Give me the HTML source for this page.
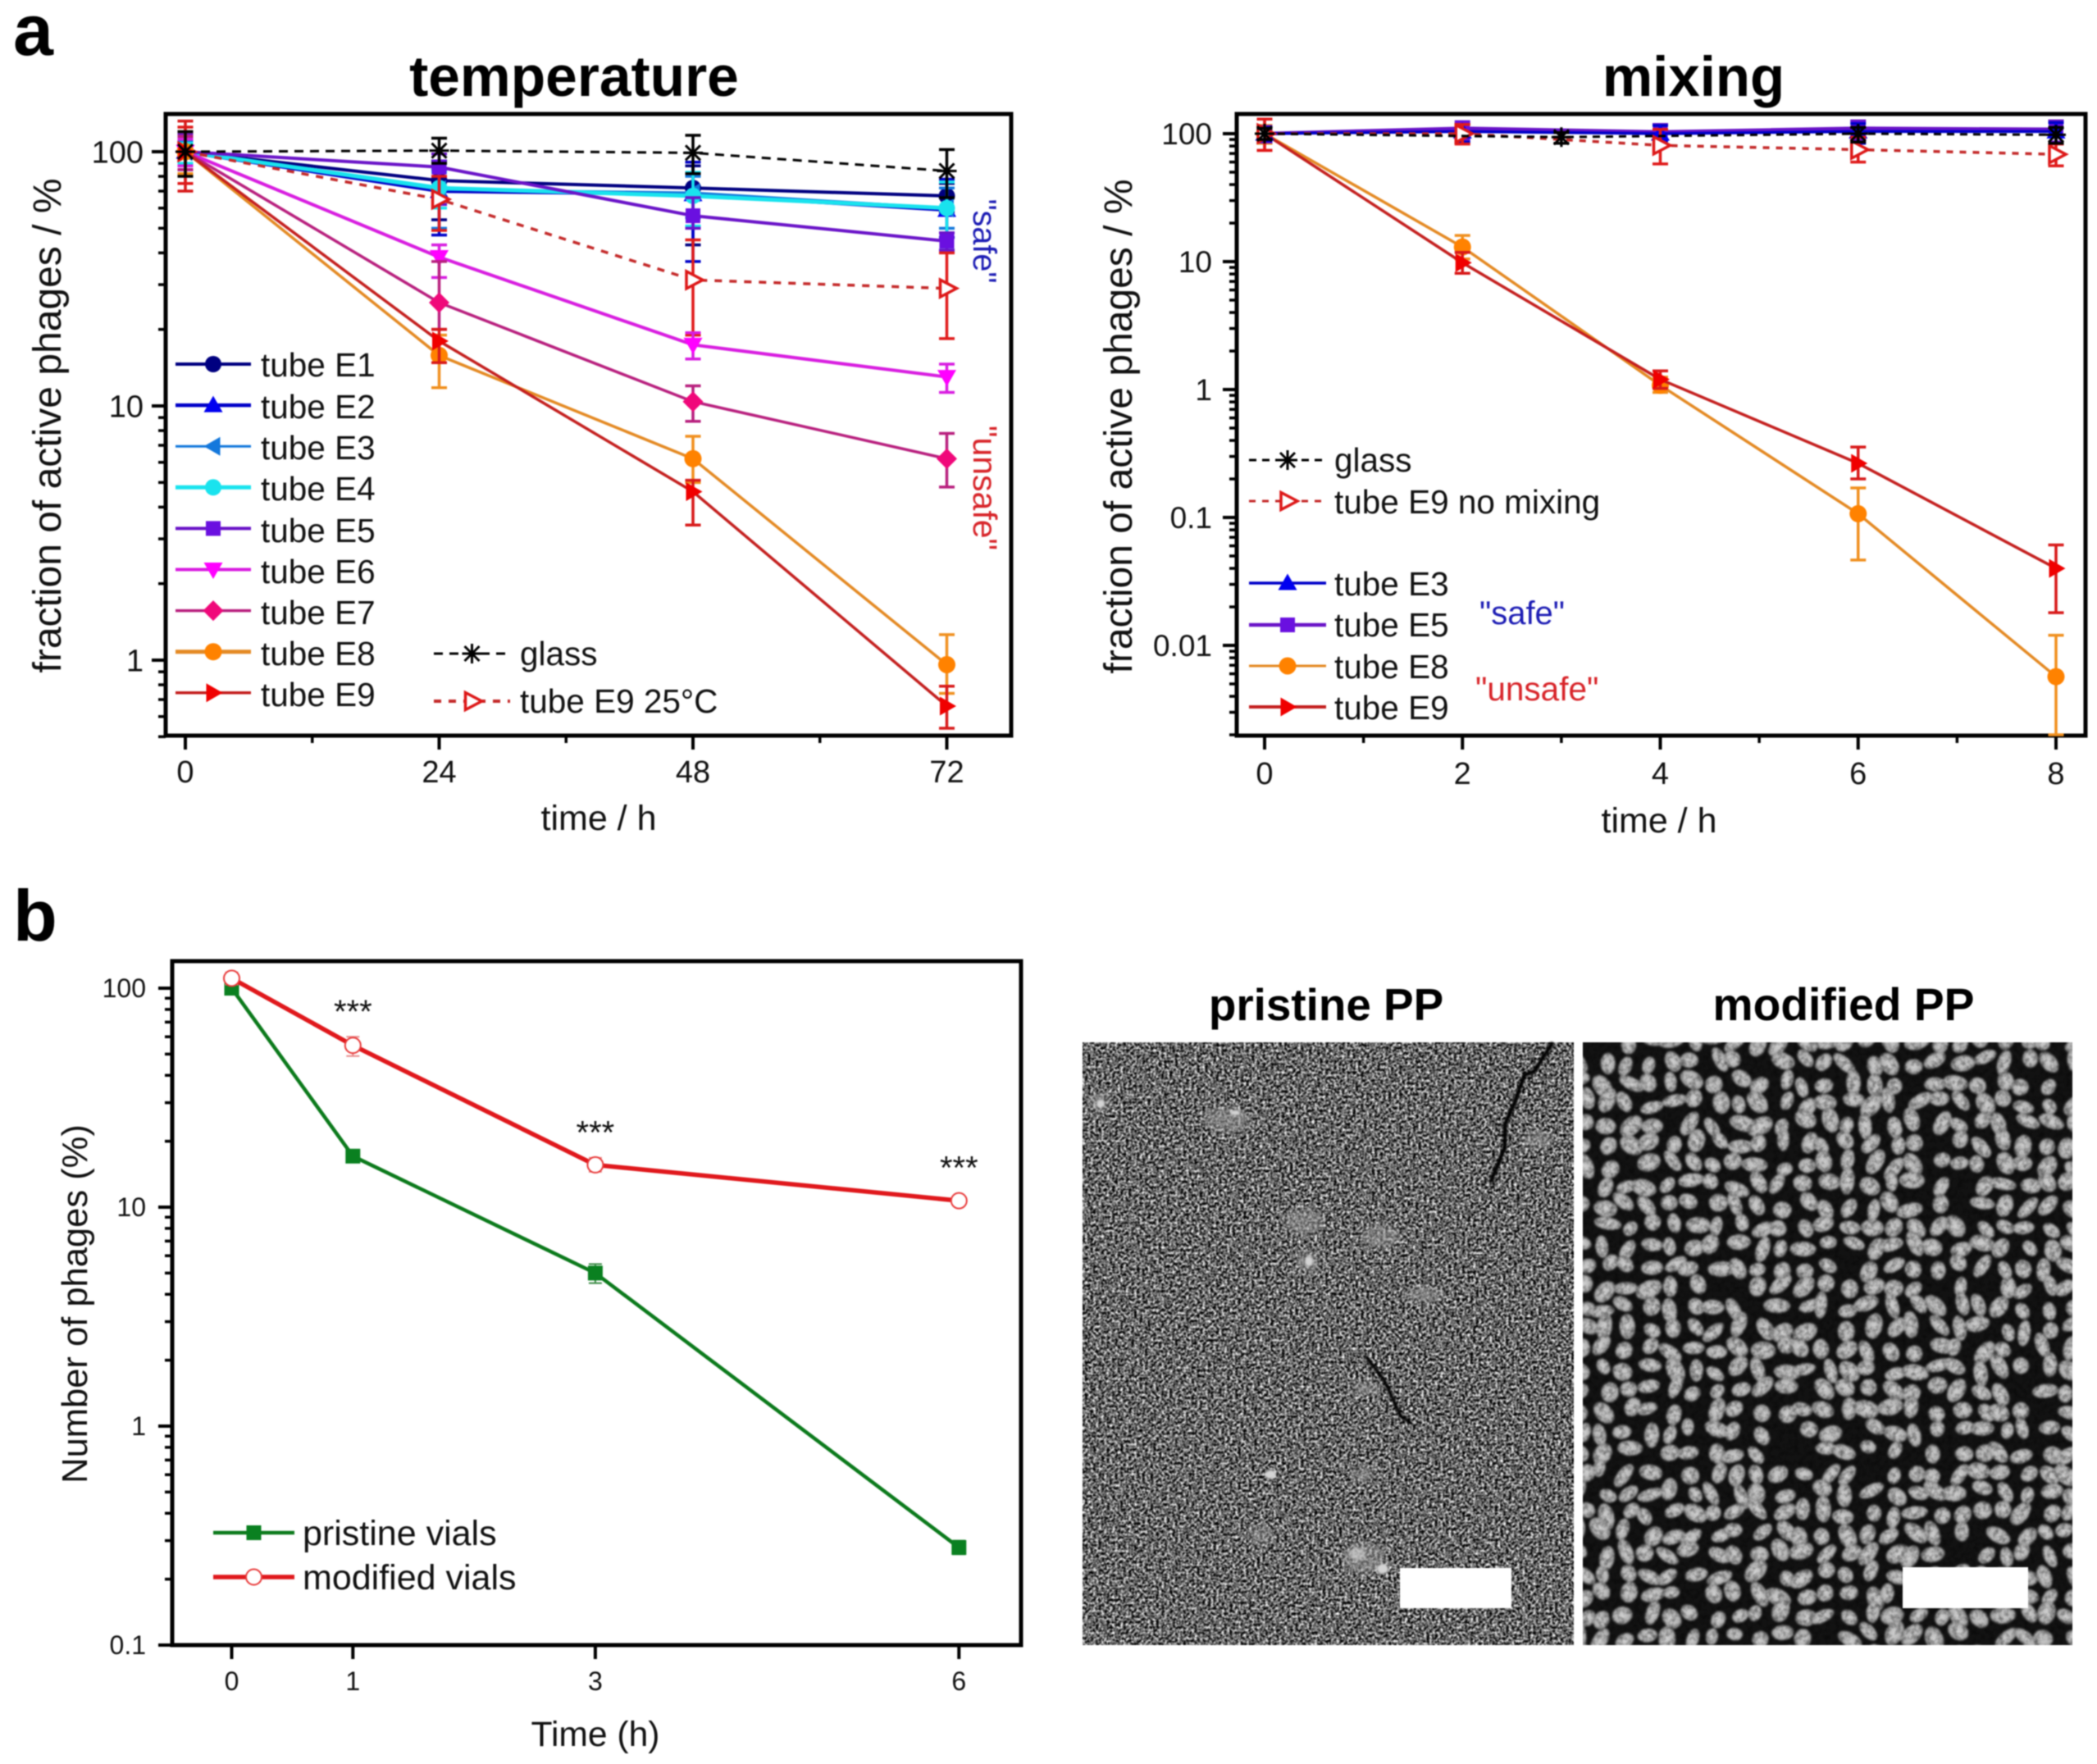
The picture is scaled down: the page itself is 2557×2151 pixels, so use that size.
<!DOCTYPE html>
<html lang="en">
<head>
<meta charset="utf-8">
<title>Phage activity charts</title>
<style>
html,body{margin:0;padding:0;background:#fff;}
#root{display:block;width:2557px;height:2151px;filter:blur(0.7px);}
text{font-family:"Liberation Sans",sans-serif;fill:#111;}
.lg{font-size:40.5px;}
.bd{font-weight:700;fill:#000;}
</style>
</head>
<body>
<svg id="root" xmlns="http://www.w3.org/2000/svg" width="2557" height="2151" viewBox="0 0 2557 2151">
<defs>
<filter id="grain" x="0" y="0" width="100%" height="100%" color-interpolation-filters="sRGB">
<feTurbulence type="fractalNoise" baseFrequency="0.3" numOctaves="3" seed="4"/>
<feColorMatrix type="matrix" values="1.9 0 0 0 -0.55  1.9 0 0 0 -0.55  1.9 0 0 0 -0.55  0 0 0 0 1"/>
</filter>
<filter id="fine" x="0" y="0" width="100%" height="100%" color-interpolation-filters="sRGB">
<feTurbulence type="fractalNoise" baseFrequency="0.16" numOctaves="2" seed="9"/>
<feColorMatrix type="matrix" values="0 0 0 0 0  0 0 0 0 0  0 0 0 0 0  0.9 0 0 0 -0.35"/>
</filter>
<filter id="soft2"><feGaussianBlur stdDeviation="1"/></filter>
<filter id="soft5"><feGaussianBlur stdDeviation="4"/></filter>
<radialGradient id="blob"><stop offset="0" stop-color="#d2d2d2"/><stop offset="0.75" stop-color="#b0b0b0"/><stop offset="1" stop-color="#848484"/></radialGradient>
<clipPath id="clip-sem2"><rect x="1930" y="1271" width="597" height="735"/></clipPath>
</defs>

<text class="bd" x="16" y="67" font-size="88">a</text>
<text class="bd" x="16" y="1147" font-size="88">b</text>

<text class="bd" x="700" y="117" font-size="69.5" text-anchor="middle">temperature</text>
<text class="bd" x="2065" y="117" font-size="69" text-anchor="middle">mixing</text>

<text transform="translate(74,519) rotate(-90)" font-size="48" text-anchor="middle">fraction of active phages / %</text>
<text x="730" y="1012" font-size="43" text-anchor="middle">time / h</text>
<text transform="translate(1380,520) rotate(-90)" font-size="48" text-anchor="middle">fraction of active phages / %</text>
<text x="2023" y="1015" font-size="43" text-anchor="middle">time / h</text>
<text transform="translate(106,1590) rotate(-90)" font-size="43.5" text-anchor="middle">Number of phages (%)</text>
<text x="726" y="2129" font-size="42.6" text-anchor="middle">Time (h)</text>

<g>
<text class="lg" x="318" y="459">tube E1</text>
<text class="lg" x="318" y="510">tube E2</text>
<text class="lg" x="318" y="560">tube E3</text>
<text class="lg" x="318" y="610">tube E4</text>
<text class="lg" x="318" y="661">tube E5</text>
<text class="lg" x="318" y="711">tube E6</text>
<text class="lg" x="318" y="761">tube E7</text>
<text class="lg" x="318" y="811">tube E8</text>
<text class="lg" x="318" y="861">tube E9</text>
<text class="lg" x="634" y="811">glass</text>
<text class="lg" x="634" y="869">tube E9 25°C</text>
</g>
<text transform="translate(1187,294) rotate(90)" font-size="39.5" text-anchor="middle" style="fill:#1c1cb4">"safe"</text>
<text transform="translate(1187,595) rotate(90)" font-size="41" text-anchor="middle" style="fill:#d8252a">"unsafe"</text>

<g>
<text class="lg" x="1627" y="575">glass</text>
<text class="lg" x="1627" y="626">tube E9 no mixing</text>
<text class="lg" x="1627" y="726">tube E3</text>
<text class="lg" x="1627" y="776">tube E5</text>
<text class="lg" x="1627" y="827">tube E8</text>
<text class="lg" x="1627" y="877">tube E9</text>
</g>
<text x="1804" y="761" font-size="40" style="fill:#1c1cb4">"safe"</text>
<text x="1799" y="854" font-size="40.5" style="fill:#d8252a">"unsafe"</text>

<g>
<text x="369" y="1884" font-size="43">pristine vials</text>
<text x="369" y="1938" font-size="43">modified vials</text>
</g>

<text class="bd" x="1617" y="1244" font-size="54.8" text-anchor="middle">pristine PP</text>
<text class="bd" x="2248" y="1244" font-size="55.2" text-anchor="middle">modified PP</text>

<g>
<rect x="1320" y="1271" width="599" height="735" fill="#666" filter="url(#grain)"/>
<g filter="url(#soft5)" fill="#9a9a9a" opacity="0.55">
<ellipse cx="1663" cy="1900" rx="26" ry="20"/><ellipse cx="1663" cy="1798" rx="12" ry="10"/><ellipse cx="1537" cy="1872" rx="14" ry="12"/>
<ellipse cx="1596" cy="1538" rx="14" ry="14"/><ellipse cx="1737" cy="1579" rx="22" ry="10"/><ellipse cx="1341" cy="1344" rx="14" ry="12"/>
<ellipse cx="1496" cy="1365" rx="28" ry="16"/><ellipse cx="1684" cy="1508" rx="24" ry="14"/><ellipse cx="1590" cy="1490" rx="24" ry="16"/>
<ellipse cx="1875" cy="1390" rx="20" ry="10"/><ellipse cx="1665" cy="1693" rx="18" ry="8"/>
</g>
<g filter="url(#soft2)" fill="#d4d4d4">
<ellipse cx="1549" cy="1798" rx="7" ry="5"/><ellipse cx="1686" cy="1913" rx="7" ry="6"/><ellipse cx="1342" cy="1346" rx="5" ry="5"/>
<ellipse cx="1506" cy="1357" rx="6" ry="3"/><ellipse cx="1596" cy="1538" rx="5" ry="6"/><ellipse cx="1655" cy="1895" rx="10" ry="8" opacity="0.6"/>
</g>
<g fill="none" stroke="#060606" stroke-linecap="round" stroke-linejoin="round" filter="url(#soft2)">
<polyline stroke-width="5" points="1892,1273 1871,1306 1859,1311 1847,1344 1835,1371 1835,1399 1818,1440"/>
<polyline stroke-width="4" points="1667,1656 1688,1683 1708,1727 1720,1735"/>
</g>
</g>
<rect x="1707" y="1912" width="136" height="49" fill="#fff"/>

<g clip-path="url(#clip-sem2)">
<rect x="1930" y="1271" width="597" height="735" fill="#121212"/>
<g id="particles" filter="url(#soft2)"></g>
<rect x="1930" y="1271" width="597" height="735" fill="#000" filter="url(#fine)"/>
</g>
<rect x="2320" y="1911" width="153" height="50" fill="#fff"/>

<g id="charts"></g>
</svg>

<script>
// ---- Temperature chart data ----
const tempHours = [0, 24, 48, 72];
const tempXTicks = [0, 24, 48, 72];
const tempXMinor = [12, 36, 60];
const tempXLabels = ['0', '24', '48', '72'];
const tempYTicks = [100, 10, 1];
const tempYLabels = ['100', '10', '1'];
const tempE1 = [100, 77, 72, 67];
const tempE1Hi = [112, 92, 88, 75];
const tempE1Lo = [85, 54, 43, 58];
const tempE2 = [100, 70, 68, 59];
const tempE2Hi = [115, 90, 91, 78];
const tempE2Lo = [85, 47, 37, 46];
const tempE3 = [100, 71, 69, 60];
const tempE3Hi = [110, 85, 80, 72];
const tempE3Lo = [88, 50, 55, 50];
const tempE4 = [100, 72, 67, 60];
const tempE4Hi = [108, 83, 83, 76];
const tempE4Lo = [90, 60, 51, 41];
const tempE5 = [100, 87, 56, 44.5];
const tempE5Hi = [118, 98, 66, 48];
const tempE5Lo = [82, 62, 50, 41];
const tempE6 = [100, 38.5, 17.4, 13];
const tempE6Hi = [112, 43, 19.4, 14.6];
const tempE6Lo = [88, 32, 15.3, 11.3];
const tempE7 = [100, 25.5, 10.4, 6.2];
const tempE7Hi = [115, 37, 12, 7.8];
const tempE7Lo = [85, 20, 8.7, 4.8];
const tempE8 = [100, 15.8, 6.2, 0.96];
const tempE8Hi = [120, 19, 7.6, 1.26];
const tempE8Lo = [82, 11.8, 5, 0.74];
const tempE9 = [100, 18, 4.6, 0.66];
const tempE9Hi = [132, 20, 5.1, 0.79];
const tempE9Lo = [70, 14.8, 3.4, 0.54];
const tempGlass = [100, 101, 99, 84];
const tempGlassHi = [120, 113, 116, 102];
const tempGlassLo = [80, 90, 82, 66];
const tempE925 = [100, 65, 31.3, 29];
const tempE925Hi = [125, 80, 45, 40];
const tempE925Lo = [75, 49, 19, 18.4];

// ---- Mixing chart data ----
const mixHours = [0, 2, 4, 6, 8];
const mixGlassHours = [0, 3, 6, 8];
const mixXTicks = [0, 2, 4, 6, 8];
const mixXMinor = [1, 3, 5, 7];
const mixXLabels = ['0', '2', '4', '6', '8'];
const mixYTicks = [100, 10, 1, 0.1, 0.01];
const mixYLabels = ['100', '10', '1', '0.1', '0.01'];
const mixE3 = [100, 104, 100, 104, 104];
const mixE3Hi = [112, 118, 116, 120, 122];
const mixE3Lo = [88, 86, 88, 84, 84];
const mixE5 = [100, 110, 103, 110, 108];
const mixE5Hi = [114, 124, 118, 126, 126];
const mixE5Lo = [86, 90, 88, 90, 86];
const mixE8 = [100, 13, 1.08, 0.107, 0.0057];
const mixE8Hi = [116, 16, 1.25, 0.17, 0.012];
const mixE8Lo = [84, 10.5, 0.95, 0.0465, 0.002];
const mixE9 = [100, 9.8, 1.2, 0.265, 0.04];
const mixE9Hi = [130, 11.8, 1.4, 0.355, 0.061];
const mixE9Lo = [74, 8.1, 1.02, 0.2, 0.018];
const mixGlass = [100, 94, 100, 98];
const mixGlassHi = [110, 102, 112, 112];
const mixGlassLo = [90, 84, 86, 84];
const mixNoMix = [100, 100, 81, 75, 69];
const mixNoMixHi = [130, 118, 108, 94, 83];
const mixNoMixLo = [74, 83, 58, 60, 56];

// ---- Vials chart data ----
const vialHours = [0, 1, 3, 6];
const vialXTicks = [0, 1, 3, 6];
const vialXLabels = ['0', '1', '3', '6'];
const vialYTicks = [100, 10, 1, 0.1];
const vialYLabels = ['100', '10', '1', '0.1'];
const vialPristine = [100, 17.1, 5, 0.279];
const vialPristineHi = [104, 18, 5.5, 0.3];
const vialPristineLo = [96, 16.2, 4.5, 0.26];
const vialModified = [111, 54.8, 15.6, 10.7];
const vialModifiedHi = [118, 60, 16.8, 11.2];
const vialModifiedLo = [104, 49, 14.5, 10.2];
const vialStars = ['***', '***', '***'];
const vialStarHours = [1, 3, 6];
const vialStarLevels = [84, 23.6, 16.3];

// ---- Axis functions ----
const tempX = h => 226 + (h / 24) * 309.5;
const tempY = v => 185 + (2 - Math.log10(v)) * 310;
const mixX = h => 1542 + (h / 2) * 241.25;
const mixY = v => 163 + (2 - Math.log10(v)) * 156;
const vialX = h => 282.5 + h * 147.8;
const vialY = v => 1205 + (2 - Math.log10(v)) * 267;

// ---- Drawing helpers ----
const NS = 'http://www.w3.org/2000/svg';
const chartsLayer = document.getElementById('charts');
function mk(parent, tag, props, text) {
  const n = document.createElementNS(NS, tag);
  for (const k in props) n.setAttribute(k, props[k]);
  if (text !== undefined) n.textContent = text;
  parent.appendChild(n);
  return n;
}
function drawMarker(parent, kind, x, y, st) {
  const g = mk(parent, 'g', {});
  
  
  const r = st.size;
  if (kind === 'circle') mk(g, 'circle', {cx: x, cy: y, r: r, fill: st.fill});
  if (kind === 'square') mk(g, 'rect', {x: x - r, y: y - r, width: 2 * r, height: 2 * r, fill: st.fill});
  if (kind === 'up') mk(g, 'polygon', {points: `${x},${y - r * 1.15} ${x + r * 1.15},${y + r * 0.85} ${x - r * 1.15},${y + r * 0.85}`, fill: st.fill});
  if (kind === 'down') mk(g, 'polygon', {points: `${x},${y + r * 1.15} ${x + r * 1.15},${y - r * 0.85} ${x - r * 1.15},${y - r * 0.85}`, fill: st.fill});
  if (kind === 'left') mk(g, 'polygon', {points: `${x - r * 1.15},${y} ${x + r * 0.85},${y - r * 1.15} ${x + r * 0.85},${y + r * 1.15}`, fill: st.fill});
  if (kind === 'right') mk(g, 'polygon', {points: `${x + r * 1.15},${y} ${x - r * 0.85},${y - r * 1.15} ${x - r * 0.85},${y + r * 1.15}`, fill: st.fill});
  if (kind === 'diamond') mk(g, 'polygon', {points: `${x},${y - r * 1.25} ${x + r * 1.25},${y} ${x},${y + r * 1.25} ${x - r * 1.25},${y}`, fill: st.fill});
  if (kind === 'openRight') mk(g, 'polygon', {points: `${x + r * 1.2},${y} ${x - r * 0.8},${y - r * 1.05} ${x - r * 0.8},${y + r * 1.05}`, fill: '#fff', stroke: st.fill, 'stroke-width': 3.5});
  if (kind === 'openCircle') mk(g, 'circle', {cx: x, cy: y, r: r, fill: '#fff', stroke: st.fill, 'stroke-width': 2});
  if (kind === 'star') {
    mk(g, 'line', {x1: x - r, y1: y, x2: x + r, y2: y, stroke: st.fill, 'stroke-width': 3});
    mk(g, 'line', {x1: x, y1: y - r, x2: x, y2: y + r, stroke: st.fill, 'stroke-width': 3});
    mk(g, 'line', {x1: x - r * 0.75, y1: y - r * 0.75, x2: x + r * 0.75, y2: y + r * 0.75, stroke: st.fill, 'stroke-width': 3});
    mk(g, 'line', {x1: x - r * 0.75, y1: y + r * 0.75, x2: x + r * 0.75, y2: y - r * 0.75, stroke: st.fill, 'stroke-width': 3});
  }
}
function drawSeries(xs, ys, hi, lo, xf, yf, st) {
  const g = mk(chartsLayer, 'g', {});
  
  
  const cap = st.cap === undefined ? 9.5 : st.cap;
  xs.forEach((h, i) => {
    const px = xf(h);
    const bar = mk(g, 'path', {
      d: `M${px},${yf(hi[i])}V${yf(lo[i])}M${px - cap},${yf(hi[i])}H${px + cap}M${px - cap},${yf(lo[i])}H${px + cap}`,
      fill: 'none', stroke: st.err || st.line, 'stroke-width': st.errWidth || 3.5
    });
    
    
  });
  const pts = xs.map((h, i) => xf(h) + ',' + yf(ys[i])).join(' ');
  const ln = mk(g, 'polyline', {points: pts, fill: 'none', stroke: st.line, 'stroke-width': st.width});
  if (st.dash) ln.setAttribute('stroke-dasharray', st.dash);
  
  
  xs.forEach((h, i) => drawMarker(g, st.marker, xf(h), yf(ys[i]), st));
}
function drawLegendKey(x1, x2, y, st) {
  const g = mk(chartsLayer, 'g', {});
  
  
  const ln = mk(g, 'line', {x1: x1, y1: y, x2: x2, y2: y, stroke: st.line, 'stroke-width': st.keyWidth || st.width});
  if (st.dash) ln.setAttribute('stroke-dasharray', st.dash);
  drawMarker(g, st.marker, (x1 + x2) / 2, y, st);
}
function drawBox(left, top, right, bottom, name) {
  const b = mk(chartsLayer, 'rect', {x: left, y: top, width: right - left, height: bottom - top, fill: 'none', stroke: '#000', 'stroke-width': 5});
  
  
}
function drawXAxis(xf, ticks, labels, minor, bottom, labelY, fontSize) {
  const g = mk(chartsLayer, 'g', {});
  
  
  ticks.forEach((t, i) => {
    const tick = mk(g, 'line', {x1: xf(t), x2: xf(t), y1: bottom, y2: bottom + 17, stroke: '#000', 'stroke-width': 4});
    
    
    const lab = mk(g, 'text', {x: xf(t), y: labelY, 'text-anchor': 'middle', 'font-size': fontSize}, labels[i]);
    
    
  });
  minor.forEach(t => {
    const tick = mk(g, 'line', {x1: xf(t), x2: xf(t), y1: bottom, y2: bottom + 9, stroke: '#000', 'stroke-width': 3.5});
    
    
  });
}
function drawYAxis(yf, ticks, labels, left, top, bottom, labelX, fontSize) {
  const g = mk(chartsLayer, 'g', {});
  
  
  ticks.forEach((t, i) => {
    const tick = mk(g, 'line', {x1: left - 17, x2: left, y1: yf(t), y2: yf(t), stroke: '#000', 'stroke-width': 4});
    
    
    const lab = mk(g, 'text', {x: labelX, y: yf(t) + fontSize * 0.35, 'text-anchor': 'end', 'font-size': fontSize}, labels[i]);
    
    
  });
  for (let d = -4; d <= 2; d++) {
    for (let m = 2; m <= 9; m++) {
      const py = yf(m * Math.pow(10, d));
      if (py < top || py > bottom) continue;
      const tick = mk(g, 'line', {x1: left - 9, x2: left, y1: py, y2: py, stroke: '#000', 'stroke-width': 3.5});
      
      
    }
  }
}

// ---- Series styles ----
const sE1 = {name: 'series-tube-e1', line: '#000080', fill: '#000080', marker: 'circle', size: 10, width: 4};
const sE2 = {name: 'series-tube-e2', line: '#0000c8', fill: '#0000f0', marker: 'up', size: 10, width: 4.5};
const sE3 = {name: 'series-tube-e3', line: '#1478dc', fill: '#1478dc', marker: 'left', size: 10, width: 3};
const sE4 = {name: 'series-tube-e4', line: '#19e3ee', fill: '#19e3ee', marker: 'circle', size: 10, width: 5};
const sE5 = {name: 'series-tube-e5', line: '#6a14c8', fill: '#6a10e0', marker: 'square', size: 9, width: 4};
const sE6 = {name: 'series-tube-e6', line: '#d81ee0', fill: '#ff00ff', marker: 'down', size: 10, width: 4};
const sE7 = {name: 'series-tube-e7', line: '#b8207e', fill: '#f0087a', marker: 'diamond', size: 10, width: 3.5};
const sE8 = {name: 'series-tube-e8', line: '#e48a24', fill: '#ff8200', marker: 'circle', size: 10.5, width: 3.5, keyWidth: 5, err: '#f09020'};
const sE9 = {name: 'series-tube-e9', line: '#c4201f', fill: '#f00000', marker: 'right', size: 10, width: 3.5, err: '#d81a1a'};
const sGlass = {name: 'series-glass', line: '#000', fill: '#000', marker: 'star', size: 12, width: 3, dash: '11 8'};
const sE925 = {name: 'series-tube-e9-25c', line: '#c42a2a', fill: '#dd1818', marker: 'openRight', size: 10, width: 3.5, dash: '9 9', keyWidth: 4, err: '#e01a1a'};
const sM3 = Object.assign({}, sE2, {name: 'series-mix-tube-e3', width: 3.5});
const sM5 = Object.assign({}, sE5, {name: 'series-mix-tube-e5', width: 4.5});
const sM8 = Object.assign({}, sE8, {name: 'series-mix-tube-e8', keyWidth: 3});
const sM9 = Object.assign({}, sE9, {name: 'series-mix-tube-e9', keyWidth: 4});
const sMGlass = Object.assign({}, sGlass, {name: 'series-mix-glass', dash: '9 7', size: 12});
const sNoMix = Object.assign({}, sE925, {name: 'series-tube-e9-no-mixing', dash: '8 8', keyWidth: 3});
const sPristine = {name: 'series-pristine-vials', line: '#0c7a1c', fill: '#0a8020', marker: 'square', size: 9, width: 4.5, err: '#3a8a44', errWidth: 2, cap: 8};
const sModified = {name: 'series-modified-vials', line: '#e0181c', fill: '#e83a3a', marker: 'openCircle', size: 9.5, width: 5.5, err: '#e88a8a', errWidth: 2, cap: 8};

// ---- Temperature chart ----
drawBox(202, 139, 1233, 897, 'temperature-plot-frame');
drawXAxis(tempX, tempXTicks, tempXLabels, tempXMinor, 897, 954, 38);
drawYAxis(tempY, tempYTicks, tempYLabels, 202, 139, 899, 175, 38);
drawSeries(tempHours, tempE1, tempE1Hi, tempE1Lo, tempX, tempY, sE1);
drawSeries(tempHours, tempE2, tempE2Hi, tempE2Lo, tempX, tempY, sE2);
drawSeries(tempHours, tempE3, tempE3Hi, tempE3Lo, tempX, tempY, sE3);
drawSeries(tempHours, tempE4, tempE4Hi, tempE4Lo, tempX, tempY, sE4);
drawSeries(tempHours, tempE5, tempE5Hi, tempE5Lo, tempX, tempY, sE5);
drawSeries(tempHours, tempE925, tempE925Hi, tempE925Lo, tempX, tempY, sE925);
drawSeries(tempHours, tempE6, tempE6Hi, tempE6Lo, tempX, tempY, sE6);
drawSeries(tempHours, tempE7, tempE7Hi, tempE7Lo, tempX, tempY, sE7);
drawSeries(tempHours, tempE8, tempE8Hi, tempE8Lo, tempX, tempY, sE8);
drawSeries(tempHours, tempE9, tempE9Hi, tempE9Lo, tempX, tempY, sE9);
drawSeries(tempHours, tempGlass, tempGlassHi, tempGlassLo, tempX, tempY, sGlass);
[sE1, sE2, sE3, sE4, sE5, sE6, sE7, sE8, sE9].forEach((s, i) => drawLegendKey(214, 306, 444 + i * 50.1, s));
drawLegendKey(529, 622, 797, sGlass);
drawLegendKey(529, 622, 855, sE925);

// ---- Mixing chart ----
drawBox(1508, 139, 2543, 897, 'mixing-plot-frame');
drawXAxis(mixX, mixXTicks, mixXLabels, mixXMinor, 897, 956, 38);
drawYAxis(mixY, mixYTicks, mixYLabels, 1508, 139, 899, 1478, 37);
drawSeries(mixHours, mixE8, mixE8Hi, mixE8Lo, mixX, mixY, sM8);
drawSeries(mixHours, mixE9, mixE9Hi, mixE9Lo, mixX, mixY, sM9);
drawSeries(mixHours, mixE5, mixE5Hi, mixE5Lo, mixX, mixY, sM5);
drawSeries(mixHours, mixE3, mixE3Hi, mixE3Lo, mixX, mixY, sM3);
drawSeries(mixHours, mixNoMix, mixNoMixHi, mixNoMixLo, mixX, mixY, sNoMix);
drawSeries(mixGlassHours, mixGlass, mixGlassHi, mixGlassLo, mixX, mixY, sMGlass);
drawLegendKey(1523, 1617, 561, sMGlass);
drawLegendKey(1523, 1617, 611, sNoMix);
drawLegendKey(1523, 1617, 711, sM3);
drawLegendKey(1523, 1617, 762, sM5);
drawLegendKey(1523, 1617, 812, sM8);
drawLegendKey(1523, 1617, 862, sM9);

// ---- Vials chart ----
drawBox(210, 1172, 1245, 2006, 'phages-plot-frame');
drawXAxis(vialX, vialXTicks, vialXLabels, [], 2006, 2061, 32);
drawYAxis(vialY, vialYTicks, vialYLabels, 210, 1172, 2008, 178, 32);
drawSeries(vialHours, vialPristine, vialPristineHi, vialPristineLo, vialX, vialY, sPristine);
drawSeries(vialHours, vialModified, vialModifiedHi, vialModifiedLo, vialX, vialY, sModified);
vialStars.forEach((s, i) => {
  const star = mk(chartsLayer, 'text', {x: vialX(vialStarHours[i]), y: vialY(vialStarLevels[i]) + 22, 'text-anchor': 'middle', 'font-size': 40}, s);
  
  
});
drawLegendKey(260, 359, 1869, sPristine);
drawLegendKey(260, 359, 1923, sModified);

// ---- Micrograph texture (decorative particles, deterministic generator) ----
const particleLayer = document.getElementById('particles');
let seed = 12345;
function rnd() { seed = (seed * 1664525 + 1013904223) % 4294967296; return seed / 4294967296; }
for (let gy = 1262; gy < 2016; gy += 25) {
  for (let gx = 1922; gx < 2536; gx += 27) {
    if (rnd() < 0.05) continue;
    const cx = gx + (rnd() - 0.5) * 14 + 8;
    const cy = gy + (rnd() - 0.5) * 12 + 8;
    const rx = 10 + rnd() * 7;
    const ry = 7.5 + rnd() * 3.5;
    const rot = Math.floor(rnd() * 180);
    const p = mk(particleLayer, 'ellipse', {cx: cx, cy: cy, rx: rx, ry: ry, fill: 'url(#blob)', transform: `rotate(${rot} ${cx} ${cy})`});
    
    
  }
}
</script>
</body>
</html>
